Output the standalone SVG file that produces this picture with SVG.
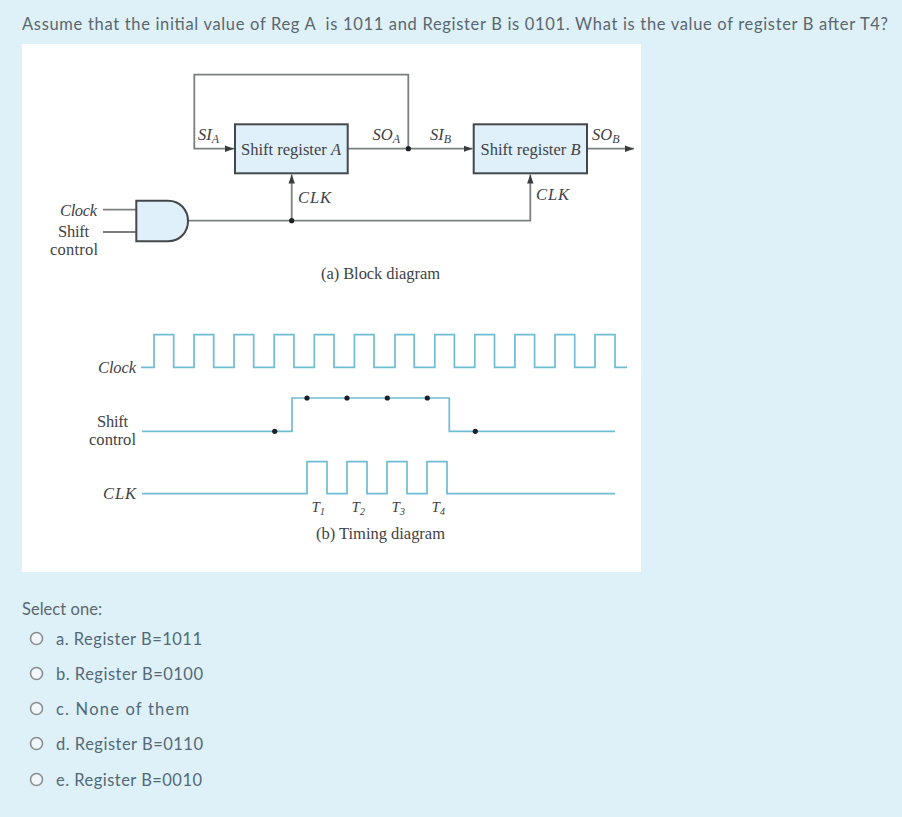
<svg xmlns="http://www.w3.org/2000/svg" width="902" height="817" viewBox="0 0 902 817">
<style>
.q{font-family:"Lato","Open Sans",sans-serif;font-size:16.5px;fill:#5a676e}
.o{font-family:"Lato","Open Sans",sans-serif;font-size:16.5px;fill:#526a77}
.s{font-family:"Liberation Serif","Times New Roman",serif;font-size:16.5px;fill:#3f4245}
.i{font-style:italic}
.sub{font-size:12px}
.tl{font-size:15px}
.ts{font-size:10.500px}
.w{fill:none;stroke:#7c7f80;stroke-width:1.8}
.box{fill:#dff0fa;stroke:#44484b;stroke-width:2}
.t{fill:none;stroke:#6fbdd3;stroke-width:1.7}
.r{fill:#fff;fill-opacity:.55;stroke:#8b8d8e;stroke-width:1.6}
.d{fill:#1d2024}
</style>
<defs>
<marker id="a" markerWidth="10" markerHeight="8" refX="9" refY="4" orient="auto" markerUnits="userSpaceOnUse"><path d="M0 0.800L9 4L0 7.200Z" fill="#3a3d40"/></marker>
</defs>
<rect width="902" height="817" fill="#def0f8"/>
<rect x="22" y="44" width="619" height="528" fill="#fff"/>
<text class="q" x="22" y="29.500" textLength="866" lengthAdjust="spacing" xml:space="preserve">Assume that the initial value of Reg A  is 1011 and Register B is 0101. What is the value of register B after T4?</text>

<g id="connectors">
<path class="w" d="M408.3 148.7V74.700H194.3V148.7H234" marker-end="url(#a)"/>
<path class="w" d="M347.7 148.7H472.5" marker-end="url(#a)"/>
<path class="w" d="M587 148.7H634" marker-end="url(#a)"/>
<path class="w" d="M103 209.7H136M103 232H136"/>
<path class="w" d="M188 220.7H530.3V174.5" marker-end="url(#a)"/>
<path class="w" d="M291.7 220.7V174.5" marker-end="url(#a)"/>
<circle class="d" cx="408.3" cy="148.7" r="2.600"/>
<circle class="d" cx="291.7" cy="220.7" r="2.600"/>
</g>

<g id="shift-register-a"><rect class="box" x="235" y="124.3" width="112.7" height="49"/>
<text class="s" x="241" y="154.500" textLength="100" lengthAdjust="spacing">Shift register <tspan class="i">A</tspan></text></g>
<g id="shift-register-b"><rect class="box" x="473.7" y="124.3" width="113.3" height="49"/>
<text class="s" x="480.500" y="154.500" textLength="100" lengthAdjust="spacing">Shift register <tspan class="i">B</tspan></text></g>
<g id="and-gate"><path class="box" d="M136.3 200.7H168C180 200.7 188 210 188 221C188 232 180 241.3 168 241.3H136.3Z"/></g>

<g id="block-labels">
<text class="s i" x="198" y="140">SI<tspan class="sub" dy="3">A</tspan></text>
<text class="s i" x="372.500" y="140">SO<tspan class="sub" dy="3">A</tspan></text>
<text class="s i" x="430" y="139.500">SI<tspan class="sub" dy="3">B</tspan></text>
<text class="s i" x="592" y="139.500">SO<tspan class="sub" dy="3">B</tspan></text>
<text class="s i" x="298" y="203" textLength="33">CLK</text>
<text class="s i" x="536" y="199.500" textLength="33">CLK</text>
<text class="s i" x="60" y="216" textLength="37">Clock</text>
<text class="s" x="58" y="237" textLength="31">Shift</text>
<text class="s" x="50" y="255" textLength="48">control</text>
<text class="s" x="321" y="279" textLength="119">(a) Block diagram</text>
</g>

<g id="timing-clock"><path class="t" d="M141 367.3H154V334.7H173.7V367.3H194V334.7H213.7V367.3H234V334.7H253.7V367.3H274.2V334.7H293.9V367.3H314.3V334.7H334V367.3H354.4V334.7H374V367.3H395V334.7H414.2V367.3H434.8V334.7H454.4V367.3H474.8V334.7H494.5V367.3H514.9V334.7H534.6V367.3H555V334.7H574.7V367.3H595V334.7H615V367.3H627"/>
<text class="s i" x="98" y="373" textLength="38">Clock</text></g>

<g id="timing-shift"><path class="t" d="M142 431.3H292V398H449.3V431.3H615"/>
<circle class="d" cx="274.7" cy="431.3" r="2.600"/><circle class="d" cx="307" cy="398" r="2.600"/><circle class="d" cx="347" cy="398" r="2.600"/><circle class="d" cx="387.3" cy="398" r="2.600"/><circle class="d" cx="427.3" cy="398" r="2.600"/><circle class="d" cx="475.3" cy="431.3" r="2.600"/>
<text class="s" x="97" y="427" textLength="31">Shift</text>
<text class="s" x="89" y="445" textLength="47">control</text></g>

<g id="timing-clk"><path class="t" d="M142 493.7H307V461.7H327V493.7H347V461.7H367V493.7H387V461.7H407V493.7H427V461.7H447V493.7H615"/>
<text class="s i" x="103" y="499" textLength="33">CLK</text>
<text class="s i tl" x="311.500" y="511.500">T<tspan class="ts" dy="3">1</tspan></text>
<text class="s i tl" x="351.500" y="511.500">T<tspan class="ts" dy="3">2</tspan></text>
<text class="s i tl" x="391.500" y="511.500">T<tspan class="ts" dy="3">3</tspan></text>
<text class="s i tl" x="431.500" y="511.500">T<tspan class="ts" dy="3">4</tspan></text>
<text class="s" x="316" y="539" textLength="129">(b) Timing diagram</text></g>

<text class="q" x="22" y="614.500" textLength="80">Select one:</text>
<g id="option-a"><circle class="r" cx="36.500" cy="638.500" r="6"/><text class="o" x="56" y="644.500" textLength="146">a. Register B=1011</text></g>
<g id="option-b"><circle class="r" cx="36.500" cy="673.500" r="6"/><text class="o" x="56" y="679.500" textLength="147">b. Register B=0100</text></g>
<g id="option-c"><circle class="r" cx="36.500" cy="708.500" r="6"/><text class="o" x="56" y="714.500" textLength="133">c. None of them</text></g>
<g id="option-d"><circle class="r" cx="36.500" cy="743.500" r="6"/><text class="o" x="56" y="749.500" textLength="147">d. Register B=0110</text></g>
<g id="option-e"><circle class="r" cx="36.500" cy="779.500" r="6"/><text class="o" x="56" y="785.500" textLength="146">e. Register B=0010</text></g>
</svg>
